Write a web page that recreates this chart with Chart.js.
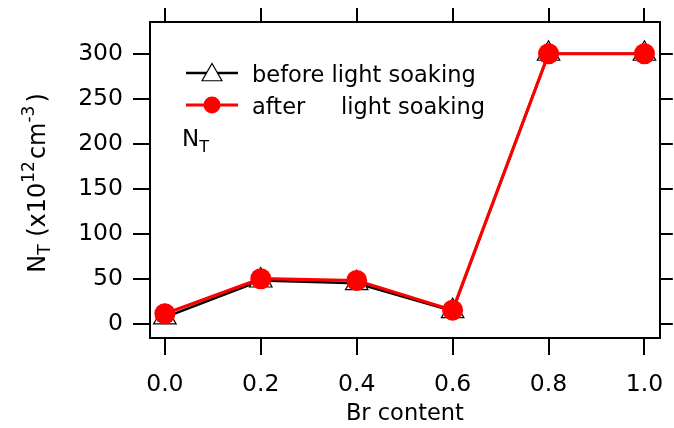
<!DOCTYPE html>
<html>
<head>
<meta charset="utf-8">
<script src="https://cdn.jsdelivr.net/npm/chart.js@4.4.1/dist/chart.umd.min.js"></script>
<style>
html, body { margin: 0; padding: 0; background: #fff; }
</style>
</head>
<body>
<canvas id="ntChart" width="674" height="428"></canvas>
<script>
// Datos
const brContent = [0.0, 0.2, 0.4, 0.6, 0.8, 1.0];
const beforeSoaking = [7, 48, 45, 14, 300, 300];
const afterSoaking = [11, 50, 48, 15, 300, 300];
const xTicks = [0.0, 0.2, 0.4, 0.6, 0.8, 1.0];
const yTicks = [0, 50, 100, 150, 200, 250, 300];

const FONT = '"DejaVu Sans", sans-serif';
const BLACK = '#000000';
const RED = '#ff0000';

function toPoints(values) {
    return brContent.map((x, i) => ({ x: x, y: values[i] }));
}

// Texto con subindices / superindices
function drawRichText(ctx, parts, x, y) {
    let cx = x;
    parts.forEach(p => {
        ctx.font = p.size + 'px ' + FONT;
        ctx.fillText(p.text, cx, y + (p.dy || 0));
        cx += ctx.measureText(p.text).width + (p.gap || 0);
    });
    return cx - x;
}

function richWidth(ctx, parts) {
    let w = 0;
    parts.forEach(p => {
        ctx.font = p.size + 'px ' + FONT;
        w += ctx.measureText(p.text).width + (p.gap || 0);
    });
    return w;
}

const titleParts = [
    { text: 'N', size: 24 },
    { text: 'T', size: 17, dy: 5 },
    { text: ' (x10', size: 24 },
    { text: '12', size: 17, dy: -11, gap: 2 },
    { text: 'cm', size: 24 },
    { text: '-3', size: 17, dy: -11, gap: 3 },
    { text: ')', size: 24 }
];

// Plugin: titulo del eje Y, etiqueta N_T y leyenda
const annotations = {
    id: 'annotations',
    afterDraw(chart) {
        const ctx = chart.ctx;
        ctx.save();
        ctx.fillStyle = BLACK;
        ctx.textBaseline = 'alphabetic';
        ctx.textAlign = 'left';

        // Titulo del eje Y (rotado)
        ctx.save();
        ctx.translate(45, 183);
        ctx.rotate(-Math.PI / 2);
        const w = richWidth(ctx, titleParts);
        drawRichText(ctx, titleParts, -w / 2, 0);
        ctx.restore();

        // Etiqueta N_T dentro del grafico
        drawRichText(ctx, [
            { text: 'N', size: 23 },
            { text: 'T', size: 16, dy: 6 }
        ], 182, 146);

        // Leyenda
        const rows = [
            { ds: chart.data.datasets[1], y: 73, label: 'before light soaking', lw: 2.5, radius: 11.5 },
            { ds: chart.data.datasets[0], y: 105, label: 'after     light soaking', lw: 3, radius: 8.5 }
        ];
        rows.forEach(r => {
            ctx.strokeStyle = r.ds.borderColor;
            ctx.lineWidth = r.lw;
            ctx.beginPath();
            ctx.moveTo(186, r.y);
            ctx.lineTo(238, r.y);
            ctx.stroke();
            ctx.fillStyle = r.ds.pointBackgroundColor;
            ctx.strokeStyle = r.ds.pointBorderColor;
            ctx.lineWidth = r.ds.pointBorderWidth;
            Chart.helpers.drawPoint(ctx, {
                pointStyle: r.ds.pointStyle,
                radius: r.radius,
                rotation: 0,
                borderWidth: r.ds.pointBorderWidth
            }, 212, r.y + (r.ds.pointStyle === 'triangle' ? 2 : 0));
            ctx.fillStyle = BLACK;
            ctx.font = '22.5px ' + FONT;
            ctx.fillText(r.label, 252, r.y + 8.5);
        });
        ctx.restore();
    }
};

function tickAxis(opts) {
    return Object.assign({
        type: 'linear',
        border: { display: true, color: BLACK, width: 2 }
    }, opts);
}

// Tamanos fijos de cada eje para que el marco quede en su sitio
function fixSize(prop, value) {
    return s => {
        s[prop] = value;
        s.paddingLeft = 0;
        s.paddingRight = 0;
        s.paddingTop = 0;
        s.paddingBottom = 0;
    };
}

const ctx = document.getElementById('ntChart').getContext('2d');
const ntChart = new Chart(ctx, {
    type: 'line',
    data: {
        datasets: [
            {
                label: 'after light soaking',
                data: toPoints(afterSoaking),
                borderColor: RED,
                borderWidth: 3.2,
                pointStyle: 'circle',
                pointRadius: 10.5,
                pointBackgroundColor: RED,
                pointBorderColor: RED,
                pointBorderWidth: 0,
                tension: 0,
                order: 0
            },
            {
                label: 'before light soaking',
                data: toPoints(beforeSoaking),
                borderColor: BLACK,
                borderWidth: 2.5,
                pointStyle: 'triangle',
                pointRadius: 13,
                pointBackgroundColor: '#ffffff',
                pointBorderColor: BLACK,
                pointBorderWidth: 1.2,
                tension: 0,
                order: 1
            }
        ]
    },
    options: {
        responsive: false,
        devicePixelRatio: 1,
        animation: false,
        clip: false,
        layout: { padding: 0 },
        plugins: {
            legend: { display: false },
            tooltip: { enabled: false }
        },
        scales: {
            x: tickAxis({
                position: 'bottom',
                min: -0.031,
                max: 1.032,
                afterBuildTicks: s => { s.ticks = xTicks.map(v => ({ value: v })); },
                afterFit: fixSize('height', 90),
                grid: { drawOnChartArea: false, color: BLACK, lineWidth: 2, tickLength: 17 },
                ticks: {
                    color: BLACK,
                    font: { family: FONT, size: 23.5 },
                    padding: 16,
                    maxRotation: 0,
                    callback: v => v.toFixed(1)
                },
                title: {
                    display: true,
                    text: 'Br content',
                    color: BLACK,
                    font: { family: FONT, size: 22.5 },
                    padding: { top: 0, bottom: 0 }
                }
            }),
            x2: tickAxis({
                position: 'top',
                min: -0.031,
                max: 1.032,
                afterBuildTicks: s => { s.ticks = xTicks.map(v => ({ value: v })); },
                afterFit: fixSize('height', 22),
                grid: { drawOnChartArea: false, color: BLACK, lineWidth: 2, tickLength: 14 },
                ticks: { display: false }
            }),
            y: tickAxis({
                position: 'left',
                min: -15.9,
                max: 335.3,
                afterBuildTicks: s => { s.ticks = yTicks.map(v => ({ value: v })); },
                afterFit: fixSize('width', 150),
                grid: { drawOnChartArea: false, color: BLACK, lineWidth: 2, tickLength: 17 },
                ticks: {
                    color: BLACK,
                    font: { family: FONT, size: 23.5 },
                    padding: 10,
                    callback: v => String(v)
                }
            }),
            y2: tickAxis({
                position: 'right',
                min: -15.9,
                max: 335.3,
                afterBuildTicks: s => { s.ticks = yTicks.map(v => ({ value: v })); },
                afterFit: fixSize('width', 13),
                grid: { drawOnChartArea: false, color: BLACK, lineWidth: 2, tickLength: 13 },
                ticks: { display: false }
            })
        }
    },
    plugins: [annotations]
});
</script>
</body>
</html>
